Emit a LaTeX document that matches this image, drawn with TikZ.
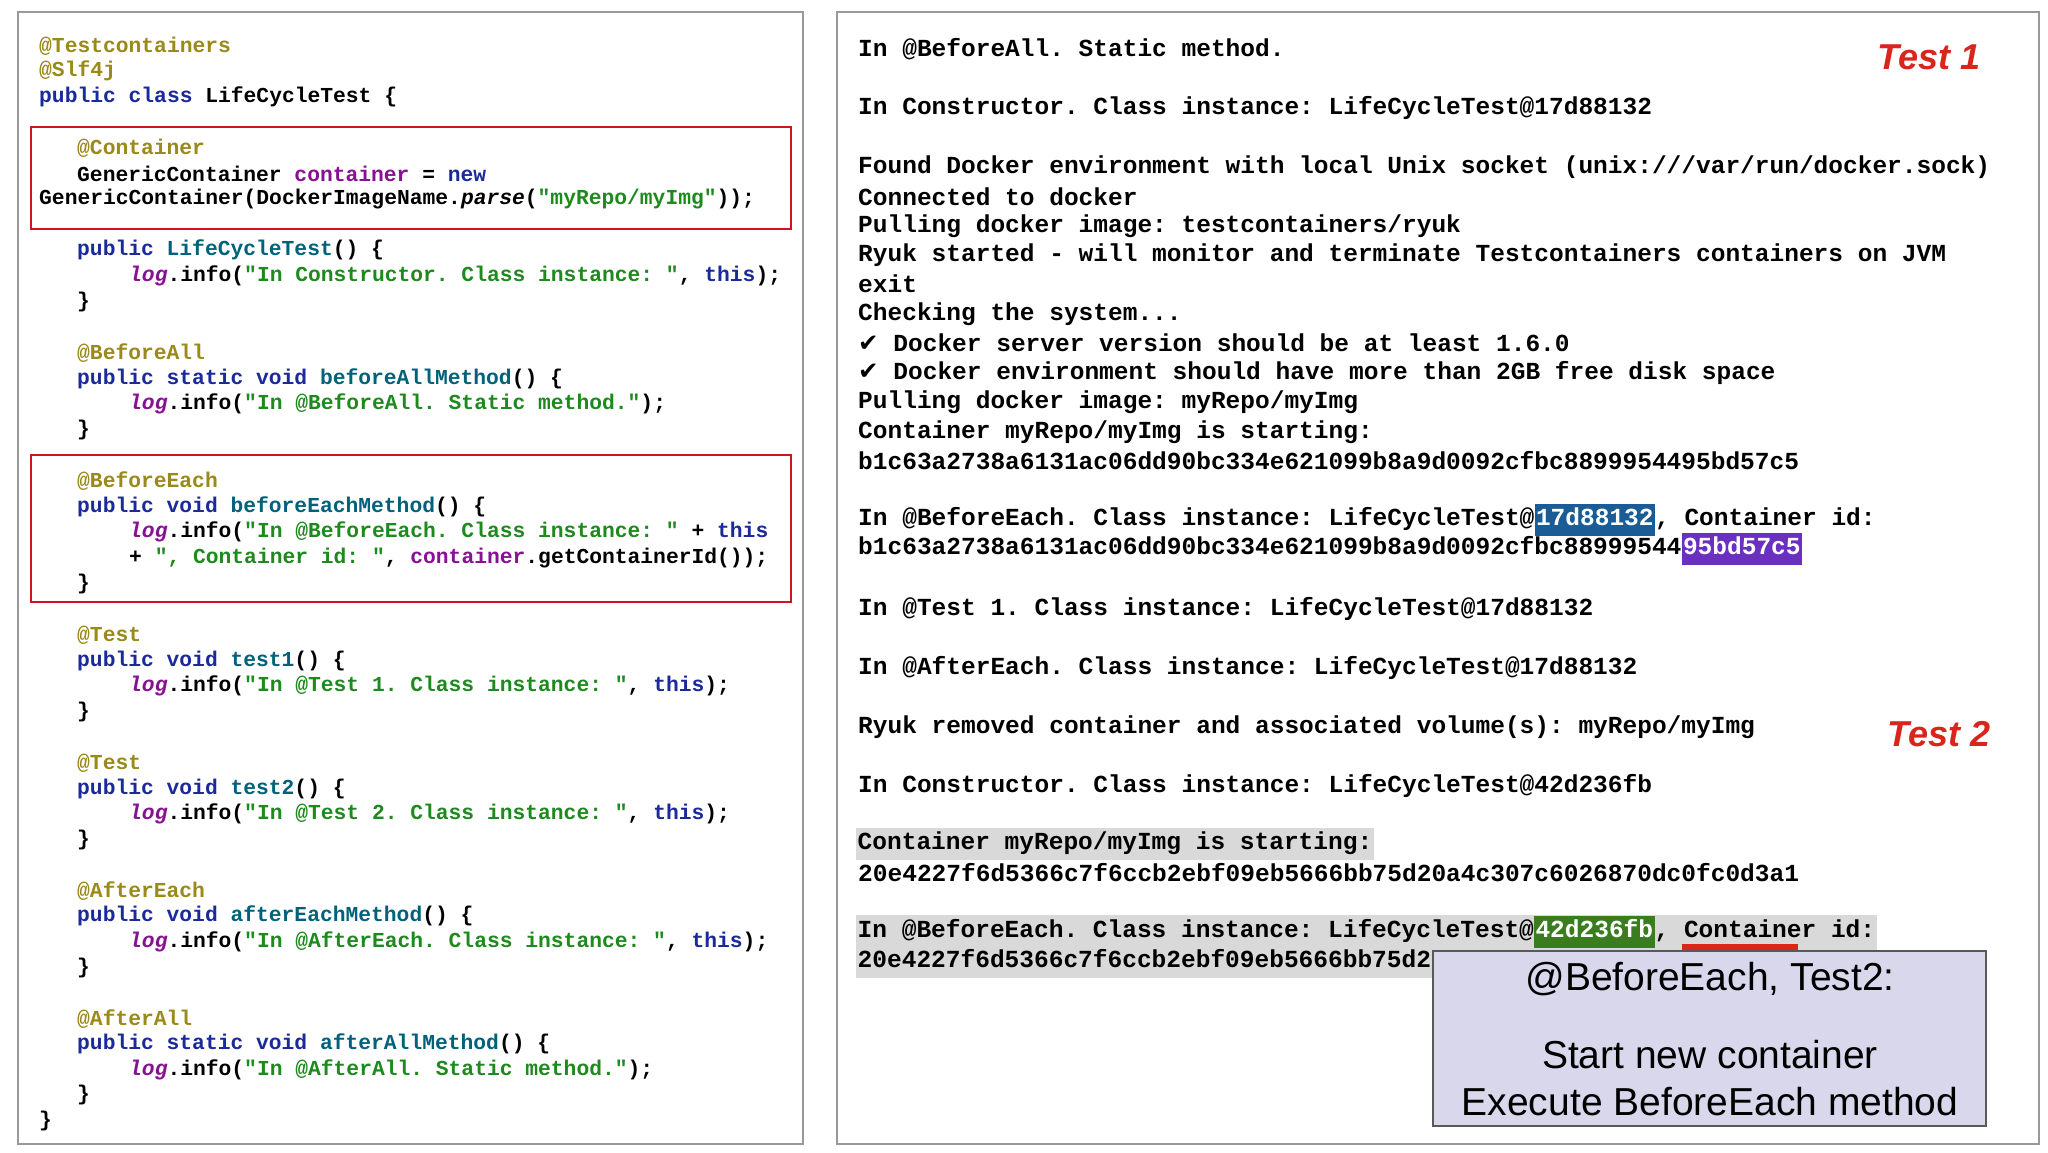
\documentclass[tikz,border=0pt]{standalone}
\usepackage{fontspec}
\setmainfont{Liberation Sans}
\setmonofont{Liberation Mono}
\newfontfamily\djfont{DejaVu Sans}
\definecolor{ann}{HTML}{9A8A1A}
\definecolor{kw}{HTML}{1A2A9A}
\definecolor{mth}{HTML}{00627A}
\definecolor{str}{HTML}{1E8A1E}
\definecolor{fld}{HTML}{871094}
\definecolor{hlb}{HTML}{1A5C96}
\definecolor{hlp}{HTML}{6A30C0}
\definecolor{hlg}{HTML}{3A7D1F}
\definecolor{gbg}{HTML}{D9D9D9}
\definecolor{redbox}{HTML}{D0141E}
\definecolor{tlab}{HTML}{D9261C}
\definecolor{callbg}{HTML}{D9D7EC}
\newcommand{\A}[1]{\textcolor{ann}{#1}}
\newcommand{\K}[1]{\textcolor{kw}{#1}}
\newcommand{\M}[1]{\textcolor{mth}{#1}}
\newcommand{\St}[1]{\textcolor{str}{#1}}
\newcommand{\F}[1]{\textcolor{fld}{#1}}
\newcommand{\Lg}{\textcolor{fld}{\textit{log}}}
\newcommand{\hl}[2]{{\fboxsep=1.5pt\colorbox{#1}{\strut\textcolor{white}{#2}}}}
\newcommand{\gb}[1]{{\fboxsep=1.5pt\colorbox{gbg}{\strut #1}}}
\begin{document}
\begin{tikzpicture}[x=1pt,y=-1pt,
  code/.style={anchor=west,inner sep=0pt,font=\ttfamily\bfseries\fontsize{21.3}{25}\selectfont},
  logl/.style={anchor=west,inner sep=0pt,font=\ttfamily\bfseries\fontsize{24.5}{29}\selectfont},
  panel/.style={draw=gray!80,line width=1.2pt,fill=white},
  rbox/.style={draw=redbox,line width=2pt}]
\useasboundingbox (0,0) rectangle (2048,1152);
\fill[white] (0,0) rectangle (2048,1152);
\draw[panel] (18,12) rectangle (803,1144);
\draw[panel] (837,12) rectangle (2039,1144);
\draw[rbox] (31,127) rectangle (791,229);
\draw[rbox] (31,455) rectangle (791,602);
% code
\node[code] (c1) at (39,46) {\A{@Testcontainers}};
\node[code] (c2) at (39,71) {\A{@Slf4j}};
\node[code] (c3) at (39,97) {\K{public class} LifeCycleTest \{};
\node[code] (c4) at (77,148) {\A{@Container}};
\node[code] (c5) at (77,174) {GenericContainer \F{container} = \K{new}};
\node[code] (c6) at (39,199) {GenericContainer(DockerImageName.\textit{parse}(\St{"myRepo/myImg"}));};
\node[code] (c7) at (77,250) {\K{public} \M{LifeCycleTest}() \{};
\node[code] (c8) at (129,276) {\Lg.info(\St{"In Constructor. Class instance: "}, \K{this});};
\node[code] (c9) at (77,302) {\}};
\node[code] (c10) at (77,353) {\A{@BeforeAll}};
\node[code] (c11) at (77,379) {\K{public static void} \M{beforeAllMethod}() \{};
\node[code] (c12) at (129,404) {\Lg.info(\St{"In @BeforeAll. Static method."});};
\node[code] (c13) at (77,430) {\}};
\node[code] (c14) at (77,481) {\A{@BeforeEach}};
\node[code] (c15) at (77,507) {\K{public void} \M{beforeEachMethod}() \{};
\node[code] (c16) at (129,532) {\Lg.info(\St{"In @BeforeEach. Class instance: "} + \K{this}};
\node[code] (c17) at (129,558) {+ \St{", Container id: "}, \F{container}.getContainerId());};
\node[code] (c18) at (77,584) {\}};
\node[code] (c19) at (77,635) {\A{@Test}};
\node[code] (c20) at (77,661) {\K{public void} \M{test1}() \{};
\node[code] (c21) at (129,686) {\Lg.info(\St{"In @Test 1. Class instance: "}, \K{this});};
\node[code] (c22) at (77,712) {\}};
\node[code] (c23) at (77,763) {\A{@Test}};
\node[code] (c24) at (77,789) {\K{public void} \M{test2}() \{};
\node[code] (c25) at (129,814) {\Lg.info(\St{"In @Test 2. Class instance: "}, \K{this});};
\node[code] (c26) at (77,840) {\}};
\node[code] (c27) at (77,891) {\A{@AfterEach}};
\node[code] (c28) at (77,916) {\K{public void} \M{afterEachMethod}() \{};
\node[code] (c29) at (129,942) {\Lg.info(\St{"In @AfterEach. Class instance: "}, \K{this});};
\node[code] (c30) at (77,968) {\}};
\node[code] (c31) at (77,1019) {\A{@AfterAll}};
\node[code] (c32) at (77,1044) {\K{public static void} \M{afterAllMethod}() \{};
\node[code] (c33) at (129,1070) {\Lg.info(\St{"In @AfterAll. Static method."});};
\node[code] (c34) at (77,1095) {\}};
\node[code] (c35) at (39,1121) {\}};
% log
\node[logl] (l1) at (858,49) {In @BeforeAll. Static method.};
\node[logl] (l2) at (858,108) {In Constructor. Class instance: LifeCycleTest@17d88132};
\node[logl] (l3) at (858,167) {Found Docker environment with local Unix socket (unix:///var/run/docker.sock)};
\node[logl] (l4) at (858,197) {Connected to docker};
\node[logl] (l5) at (858,226) {Pulling docker image: testcontainers/ryuk};
\node[logl] (l6) at (858,255) {Ryuk started - will monitor and terminate Testcontainers containers on JVM};
\node[logl] (l7) at (858,284) {exit};
\node[logl] (l8) at (858,314) {Checking the system...};
\node[logl] (l9) at (858,343) {{\djfont ✔} Docker server version should be at least 1.6.0};
\node[logl] (l10) at (858,373) {{\djfont ✔} Docker environment should have more than 2GB free disk space};
\node[logl] (l11) at (858,402) {Pulling docker image: myRepo/myImg};
\node[logl] (l12) at (858,432) {Container myRepo/myImg is starting:};
\node[logl] (l13) at (858,461) {b1c63a2738a6131ac06dd90bc334e621099b8a9d0092cfbc8899954495bd57c5};
\node[logl] (l14) at (858,520) {In @BeforeEach. Class instance: LifeCycleTest@\hl{hlb}{17d88132}, Container id:};
\node[logl] (l15) at (858,549) {b1c63a2738a6131ac06dd90bc334e621099b8a9d0092cfbc88999544\hl{hlp}{95bd57c5}};
\node[logl] (l16) at (858,609) {In @Test 1. Class instance: LifeCycleTest@17d88132};
\node[logl] (l17) at (858,668) {In @AfterEach. Class instance: LifeCycleTest@17d88132};
\node[logl] (l18) at (858,727) {Ryuk removed container and associated volume(s): myRepo/myImg};
\node[logl] (l19) at (858,786) {In Constructor. Class instance: LifeCycleTest@42d236fb};
\node[logl] (l20) at (856,844) {\gb{Container myRepo/myImg is starting:}};
\node[logl] (l21) at (858,873) {20e4227f6d5366c7f6ccb2ebf09eb5666bb75d20a4c307c6026870dc0fc0d3a1};
\node[logl] (l22) at (856,932) {\gb{In @BeforeEach. Class instance: LifeCycleTest@\hl{hlg}{42d236fb}, Container id:}};
\node[logl] (l23) at (856,962) {\gb{20e4227f6d5366c7f6ccb2ebf09eb5666bb75d2\hspace{30pt}}};
\fill[tlab] (1682,944) rectangle (1798,951);
% labels
\node[font=\bfseries\itshape\fontsize{36}{40}\selectfont,text=tlab] (t1) at (1929,57) {Test 1};
\node[font=\bfseries\itshape\fontsize{36}{40}\selectfont,text=tlab] (t2) at (1939,734) {Test 2};
% callout
\draw[draw=gray!70!black,line width=1.2pt,fill=callbg] (1433,951) rectangle (1986,1126);
\node[font=\fontsize{39}{44}\selectfont] (b1) at (1710,979) {@BeforeEach, Test2:};
\node[font=\fontsize{39}{44}\selectfont] (b2) at (1710,1055) {Start new container};
\node[font=\fontsize{39}{44}\selectfont] (b3) at (1710,1102) {Execute BeforeEach method};
\end{tikzpicture}
\end{document}
